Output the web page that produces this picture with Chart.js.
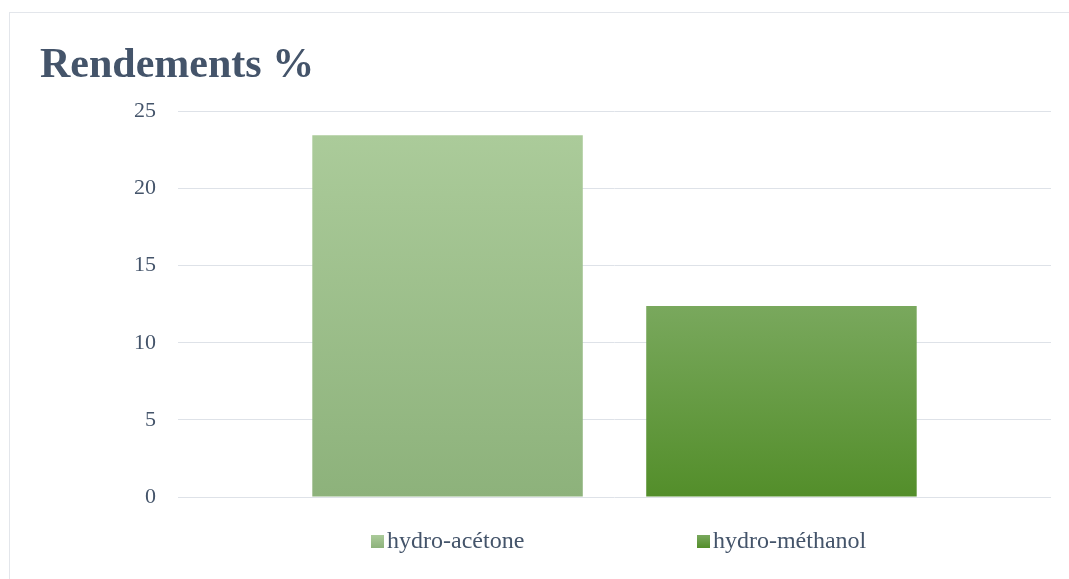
<!DOCTYPE html>
<html lang="fr">
<head>
<meta charset="utf-8">
<script src="https://cdn.jsdelivr.net/npm/chart.js@4/dist/chart.umd.min.js"></script>
<style>
  html, body { margin: 0; padding: 0; background: #fff; }
  #wrap { position: relative; width: 1069px; height: 579px; overflow: hidden; }
  #frame { position: absolute; left: 9px; top: 12px; width: 1100px; height: 600px;
           border: 1px solid #E3E6EB; box-sizing: border-box; }
  #chart { position: absolute; left: 0; top: 0; }
  #legend { position: absolute; top: 526px; left: 0; width: 1069px; height: 28px;
            font: 24px "Liberation Serif", "Times New Roman", serif; color: #44546A; }
  .item { position: absolute; top: 0; white-space: nowrap; line-height: 28px; }
  .box { display: inline-block; width: 13px; height: 13px; margin-right: 3px; vertical-align: 0px; }
</style>
</head>
<body>
<div id="wrap">
  <div id="frame"></div>
  <canvas id="chart" width="1069" height="579"></canvas>
  <div id="legend"></div>
</div>
<script>
"use strict";

// ── Data ──
const categories   = ["Rendements %"];
const seriesNames  = ["hydro-acétone", "hydro-méthanol"];
const acetoneVals  = [23.45];
const methanolVals = [12.38];
const yTicks       = [0, 5, 10, 15, 20, 25];

// top → bottom gradient stops of each bar
const GRADIENTS = [
  ["#ABCB9A", "#8DB27B"],
  ["#79A85D", "#538E2A"]
];
const TEXT = "#44546A";
const SERIF = "'Liberation Serif', 'Times New Roman', serif";

function barFill(i) {
  return ctx => {
    const area = ctx.chart.chartArea;
    if (!area) return GRADIENTS[i][0];
    const y = ctx.chart.scales.y;
    const top = y.getPixelForValue(ctx.raw ?? 0);
    const g = ctx.chart.ctx.createLinearGradient(0, top, 0, area.bottom);
    g.addColorStop(0, GRADIENTS[i][0]);
    g.addColorStop(1, GRADIENTS[i][1]);
    return g;
  };
}

const chart = new Chart(document.getElementById("chart"), {
  type: "bar",
  data: {
    labels: categories,
    datasets: [
      { label: seriesNames[0], data: acetoneVals,  backgroundColor: barFill(0) },
      { label: seriesNames[1], data: methanolVals, backgroundColor: barFill(1) }
    ]
  },
  options: {
    responsive: false,
    animation: false,
    categoryPercentage: 0.765,
    barPercentage: 0.81,
    layout: { padding: { left: 40, top: 12, right: 18, bottom: 74 } },
    plugins: {
      legend: { display: false },
      tooltip: { enabled: false },
      title: {
        display: true,
        text: categories[0],
        align: "start",
        color: TEXT,
        font: { family: SERIF, size: 42, weight: "bold" },
        padding: { top: 29, bottom: 20 }
      }
    },
    scales: {
      x: {
        ticks: { display: false },
        grid: { display: false },
        border: { display: false }
      },
      y: {
        min: 0,
        max: 25,
        afterBuildTicks: s => { s.ticks = yTicks.map(v => ({ value: v })); },
        afterFit: s => { s.width = 138; },
        ticks: { color: TEXT, padding: 22, font: { family: SERIF, size: 22 } },
        grid: { color: "#DEE2E8", lineWidth: 1, drawTicks: false },
        border: { display: false }
      }
    }
  }
});

// ── Legend, spread under each bar like the original ──
const legend = document.getElementById("legend");
const meta = chart.data.datasets.map((d, i) => chart.getDatasetMeta(i));
chart.data.datasets.forEach((ds, i) => {
  const bar = meta[i].data[0];
  const item = document.createElement("div");
  item.className = "item";
  const box = document.createElement("span");
  box.className = "box";
  box.style.background = `linear-gradient(${GRADIENTS[i][0]}, ${GRADIENTS[i][1]})`;
  item.appendChild(box);
  item.appendChild(document.createTextNode(ds.label));
  legend.appendChild(item);
  item.style.left = (bar.x - item.offsetWidth / 2) + "px";
});
</script>
</body>
</html>
